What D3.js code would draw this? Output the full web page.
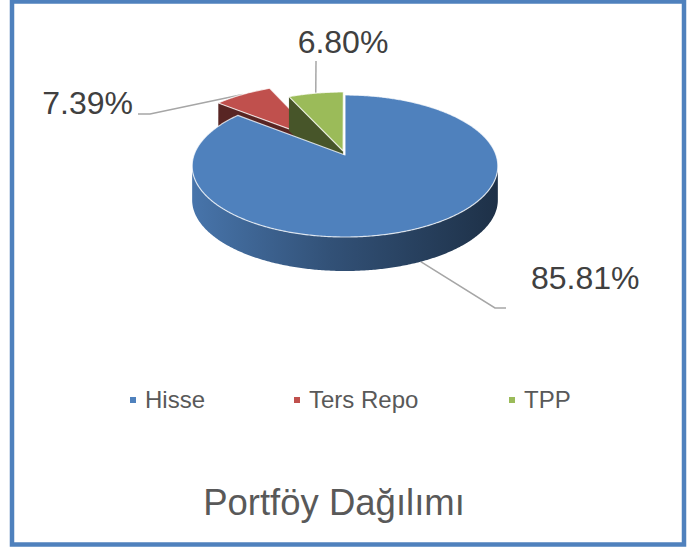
<!DOCTYPE html>
<html lang="tr">
<head>
    <meta charset="UTF-8">
    <title>Portföy Dağılımı</title>
    <script src="https://d3js.org/d3.v7.min.js"></script>
    <style>
        body { margin: 0; background: #fff; }
        text { font-family: "Liberation Sans", Arial, sans-serif; }
        .label { font-size: 32px; fill: #404040; }
        .legend { font-size: 24px; fill: #595959; }
        .title { font-size: 36.5px; fill: #595959; }
    </style>
</head>
<body>
<div id="chart"></div>
<script>
    // data
    const categories = ["Hisse", "Ters Repo", "TPP"];
    const values = [85.81, 7.39, 6.80];
    const labels = ["85.81%", "7.39%", "6.80%"];

    // look
    const colors = ["#4F81BD", "#C0504D", "#9BBB59"];
    const explode = [0, 0.28, 0.06];
    const W = 689, H = 547;
    const CX = 345, CY = 155, RX = 151, RY = 69.3, P = 0.155, DEPTH = 34;

    // label layout: text anchor + elbow points for the leader line
    const labelLayout = [
        { x: 531, y: 289, anchor: "start", elbow: [[495, 308], [506, 308]], onWall: true },
        { x: 133, y: 114, anchor: "end", elbow: [[150, 114], [138, 114]] },
        { x: 343, y: 53, anchor: "middle", elbow: [[316, 61]] }
    ];

    const svg = d3.select("#chart").append("svg")
        .attr("width", W).attr("height", H);

    // frame
    svg.append("rect")
        .attr("x", 12).attr("y", 1.5)
        .attr("width", 672).attr("height", 543)
        .attr("fill", "#fff")
        .attr("stroke", "#4F81BD")
        .attr("stroke-width", 4.5);

    const pie = d3.pie().sort(null).value(d => d);
    const arcs = pie(values).map((a, i) => {
        const mid = (a.startAngle + a.endAngle) / 2;
        return {
            ...a, i, mid,
            ou: explode[i] * Math.sin(mid),
            ov: -explode[i] * Math.cos(mid)
        };
    });

    // perspective projection of a point on the disc (u,v in unit circle), z = drop
    function proj(u, v, z) {
        const k = 1 / (1 - P * v);
        return [CX + RX * u * k, CY + RY * v * k + (z || 0)];
    }
    function rim(a, ang, z) {
        return proj(a.ou + Math.sin(ang), a.ov - Math.cos(ang), z);
    }
    function arcPts(a, a0, a1, z) {
        const n = Math.max(2, Math.ceil((a1 - a0) / 0.01));
        return d3.range(n + 1).map(j => rim(a, a0 + (a1 - a0) * j / n, z));
    }
    const line = d3.line();

    const defs = svg.append("defs");

    // leader lines (behind the pie)
    arcs.forEach(a => {
        const L = labelLayout[a.i];
        const start = rim(a, a.mid, L.onWall ? DEPTH : 0);
        svg.append("path")
            .attr("d", line([start, ...L.elbow]))
            .attr("fill", "none")
            .attr("stroke", "#A6A6A6")
            .attr("stroke-width", 1.5);
    });

    // painter's order: back slices first
    const order = arcs.slice().sort((a, b) => proj(a.ou, a.ov)[1] - proj(b.ou, b.ov)[1]);
    const visA0 = Math.acos(-P), visA1 = 2 * Math.PI - Math.acos(-P);

    order.forEach(a => {
        const g = svg.append("g");
        const base = d3.color(colors[a.i]);
        const apexTop = proj(a.ou, a.ov, 0), apexBot = proj(a.ou, a.ov, DEPTH);
        const faceCol = base.darker(2.2).formatHex();

        // cut faces facing the viewer
        if (Math.sin(a.startAngle) < -1e-6) {
            const o = rim(a, a.startAngle, 0), ob = rim(a, a.startAngle, DEPTH);
            g.append("path").attr("d", line([apexTop, o, ob, apexBot]) + "Z")
                .attr("fill", faceCol);
        }
        if (Math.sin(a.endAngle) > 1e-6) {
            const o = rim(a, a.endAngle, 0), ob = rim(a, a.endAngle, DEPTH);
            g.append("path").attr("d", line([apexTop, o, ob, apexBot]) + "Z")
                .attr("fill", faceCol);
        }

        // outer wall, front part only
        const w0 = Math.max(a.startAngle, visA0), w1 = Math.min(a.endAngle, visA1);
        if (w1 > w0) {
            const gid = "wall" + a.i;
            const grad = defs.append("linearGradient").attr("id", gid)
                .attr("gradientUnits", "userSpaceOnUse")
                .attr("x1", CX - RX).attr("x2", CX + RX).attr("y1", 0).attr("y2", 0);
            grad.append("stop").attr("offset", "0%").attr("stop-color", base.darker(0.3).formatHex());
            grad.append("stop").attr("offset", "45%").attr("stop-color", base.darker(1.3).formatHex());
            grad.append("stop").attr("offset", "100%").attr("stop-color", base.darker(2.7).formatHex());
            const top = arcPts(a, w0, w1, 0);
            const bot = arcPts(a, w0, w1, DEPTH).reverse();
            g.append("path").attr("d", line(top.concat(bot)) + "Z")
                .attr("fill", "url(#" + gid + ")");
        }

        // top surface
        const topPts = [apexTop, ...arcPts(a, a.startAngle, a.endAngle, 0)];
        g.append("path").attr("d", line(topPts) + "Z")
            .attr("fill", colors[a.i])
            .attr("stroke", "rgba(255,255,255,0.75)")
            .attr("stroke-width", 1.2)
            .attr("stroke-linejoin", "round");
    });

    // data labels
    arcs.forEach(a => {
        const L = labelLayout[a.i];
        svg.append("text").attr("class", "label")
            .attr("x", L.x).attr("y", L.y)
            .attr("text-anchor", L.anchor)
            .text(labels[a.i]);
    });

    // legend
    const legendX = [130, 294, 509];
    const legend = svg.append("g").attr("transform", "translate(0,400)");
    categories.forEach((c, i) => {
        legend.append("rect")
            .attr("x", legendX[i]).attr("y", -3)
            .attr("width", 6).attr("height", 6)
            .attr("fill", colors[i]);
        legend.append("text").attr("class", "legend")
            .attr("x", legendX[i] + 15).attr("y", 8)
            .text(c);
    });

    // title
    svg.append("text").attr("class", "title")
        .attr("x", 334).attr("y", 515)
        .attr("text-anchor", "middle")
        .text("Portföy Dağılımı");
</script>
</body>
</html>
